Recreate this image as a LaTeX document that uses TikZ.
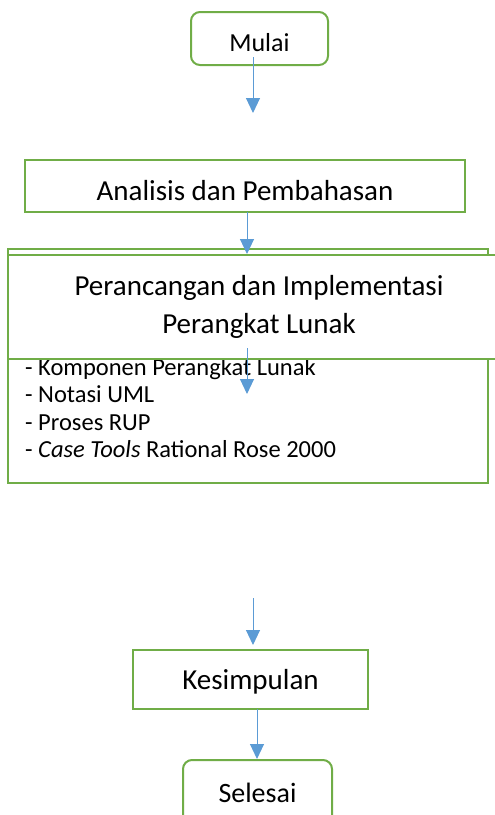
\documentclass[tikz,border=0pt]{standalone}
\usepackage{fontspec}
\setmainfont{Carlito}
\usetikzlibrary{arrows.meta}
\definecolor{boxgreen}{HTML}{70AD47}
\definecolor{arrblue}{HTML}{5B9BD5}
\newcommand{\lowertext}[2]{\raisebox{-#1}[0pt][0pt]{#2}}
\tikzset{
  box/.style={draw=boxgreen, line width=2pt, fill=white, inner sep=0pt, font=\fontsize{29}{38}\selectfont, align=center},
  rbox/.style={box, rounded corners=9pt},
  arr/.style={draw=arrblue, line width=1pt, -{Triangle[width=14pt,length=15pt]}},
  item/.style={font=\fontsize{24.5}{29}\selectfont, inner sep=0pt, anchor=base west}
}
\begin{document}
\begin{tikzpicture}[x=1pt,y=-1pt]
\useasboundingbox (0,0) rectangle (495,815);
% start
\node[rbox, minimum width=137pt, minimum height=53pt, font=\fontsize{26}{30}\selectfont] (mulai) at (259.5,38.5) {\lowertext{12.5pt}{Mulai}};
\node[box, minimum width=440pt, minimum height=52pt] (analisis) at (245,186) {\lowertext{14pt}{Analisis dan Pembahasan}};
% back box with list
\node[box, minimum width=480pt, minimum height=234pt] (back) at (248,366) {};
\node[item] (l1) at (25,375) {- Komponen Perangkat Lunak};
\node[item] (l2) at (25,402.5) {- Notasi UML};
\node[item] (l3) at (25,430) {- Proses RUP};
\node[item] (l4) at (25,457.5) {- \textit{Case Tools} Rational Rose 2000};
% front box
\node[box, minimum width=502pt, minimum height=104pt] (design) at (259,307) {Perancangan dan Implementasi\\Perangkat Lunak};
\node[box, minimum width=235pt, minimum height=59pt] (kesimpulan) at (250.5,679.5) {\lowertext{9.5pt}{Kesimpulan}};
\node[rbox, minimum width=149pt, minimum height=74pt, font=\fontsize{28}{32}\selectfont] (selesai) at (257.5,797) {\lowertext{5pt}{Selesai}};
% arrow endpoints
\coordinate (a1s) at (253,57);
\coordinate (a1e) at (253,113);
\coordinate (a2s) at (247,212);
\coordinate (a2e) at (247,254);
\coordinate (a3s) at (247,348);
\coordinate (a3e) at (247,394);
\coordinate (a4s) at (253,598);
\coordinate (a4e) at (253,645);
\coordinate (a5s) at (257,709);
\coordinate (a5e) at (257,759);
\draw[arr] (a1s) -- (a1e);
\draw[arr] (a2s) -- (a2e);
\draw[arr] (a3s) -- (a3e);
\draw[arr] (a4s) -- (a4e);
\draw[arr] (a5s) -- (a5e);
\end{tikzpicture}
\end{document}
